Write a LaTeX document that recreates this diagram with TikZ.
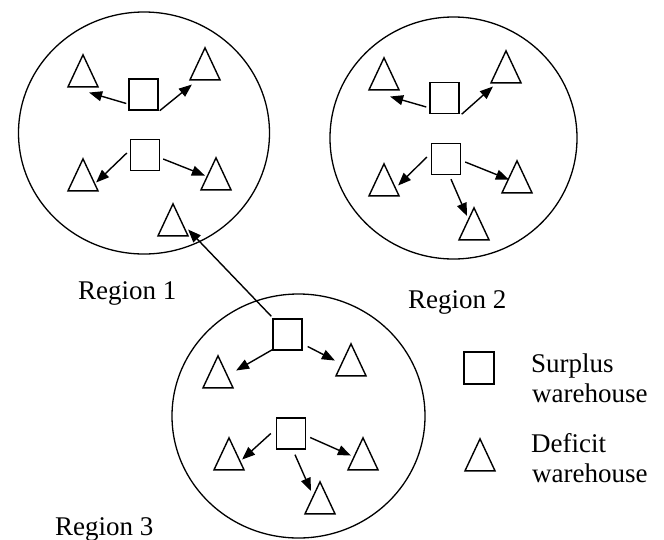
\documentclass[tikz,border=0pt]{standalone}
\usepackage{fontspec}
\setmainfont{Liberation Serif}
\usetikzlibrary{shapes.geometric,arrows.meta,calc}

\tikzset{
  region/.style={draw, ellipse, line width=1.3pt, inner sep=0pt},
  surplus/.style={draw, rectangle, line width=1.4pt, minimum width=29pt, minimum height=31pt, inner sep=0pt},
  deficit/.style={draw, isosceles triangle, isosceles triangle stretches, shape border rotate=90,
    line width=1.4pt, minimum width=30pt, minimum height=32pt, inner sep=0pt, anchor=apex},
  flow/.style={line width=1.4pt, -{Triangle[length=13pt,width=10pt]}},
  lbl/.style={anchor=base west, inner sep=0pt, font=\fontsize{27}{30}\selectfont}
}

\begin{document}
\begin{tikzpicture}[x=1pt,y=-1pt]
\useasboundingbox (0,0) rectangle (664,539);

% the three regions
\node[region, minimum width=251pt, minimum height=242pt] (r1) at (144,133) {};
\node[region, minimum width=247pt, minimum height=242pt] (r2) at (453.5,138) {};
\node[region, minimum width=253pt, minimum height=244pt] (r3) at (298.5,416) {};

% region 1
\node[surplus] (a1) at (143.5,94.5) {};
\node[surplus] (a2) at (145,155) {};
\node[deficit] (p1) at (83,53) {};
\node[deficit] (p2) at (205,46) {};
\node[deficit] (p3) at (83,157) {};
\node[deficit] (p4) at (216,156) {};
\node[deficit] (p5) at (173,202) {};

% region 2
\node[surplus] (b1) at (444.5,98) {};
\node[surplus] (b2) at (446,159) {};
\node[deficit] (q1) at (384,56) {};
\node[deficit] (q2) at (506,49) {};
\node[deficit] (q3) at (384,162) {};
\node[deficit] (q4) at (517,159) {};
\node[deficit] (q5) at (474,206) {};

% region 3
\node[surplus] (c1) at (287.5,334.5) {};
\node[surplus] (c2) at (291,433.5) {};
\node[deficit] (u1) at (218,354) {};
\node[deficit] (u2) at (351,342) {};
\node[deficit] (u3) at (229,436) {};
\node[deficit] (u4) at (363,436) {};
\node[deficit] (u5) at (320,480) {};

% flows inside region 1
\draw[flow] ($(a1.west)+(-2,9)$) -- ($(p1.right corner)+(-10,5)$);
\draw[flow] ($(a1.south east)+(1,0)$) -- ($(p2.left corner)+(3,4)$);
\draw[flow] ($(a2.west)+(-3,-2)$) -- ($(p3.right corner)+(-3,-9)$);
\draw[flow] ($(a2.east)+(3,4)$) -- ($(p4.left corner)+(5,-15)$);

% flows inside region 2
\draw[flow] ($(b1.west)+(-3,9)$) -- ($(q1.right corner)+(-10,6)$);
\draw[flow] ($(b1.south east)+(2,0)$) -- ($(q2.left corner)+(3,3)$);
\draw[flow] ($(b2.west)+(-4,-2)$) -- ($(q3.right corner)+(-2,-11)$);
\draw[flow] ($(b2.east)+(4,3)$) -- ($(q4.left corner)+(8,-14)$);
\draw[flow] ($(b2.south)+(5,4)$) -- ($(q5.apex)+(-7,10)$);

% flows inside region 3
\draw[flow] ($(c1.south west)+(0,-1)$) -- ($(u1.right corner)+(2,-18)$);
\draw[flow] ($(c1.east)+(5,12)$) -- ($(u2.left corner)+(0,-16)$);
\draw[flow] ($(c2.west)+(-5,0)$) -- ($(u3.right corner)+(-3,-11)$);
\draw[flow] ($(c2.east)+(4,4)$) -- ($(u4.left corner)+(4,-15)$);
\draw[flow] ($(c2.south)+(4,5)$) -- ($(u5.apex)+(-9,11)$);

% transfer from region 3 to region 1
\draw[flow] ($(c1.north west)+(-1,-2)$) -- ($(p5.right corner)+(-1,-7)$);

% region names
\node[lbl] (n1) at (78,299) {Region 1};
\node[lbl] (n2) at (408,308) {Region 2};
\node[lbl] (n3) at (55,535) {Region 3};

% legend
\node[surplus, minimum width=30pt, minimum height=32pt] (ks) at (479,368) {};
\node[deficit] (kd) at (480,437) {};
\node[lbl] (ks1) at (531,372) {Surplus};
\node[lbl] (ks2) at (532,402) {warehouse};
\node[lbl] (kd1) at (531,452) {Deficit};
\node[lbl] (kd2) at (532,482) {warehouse};
\end{tikzpicture}
\end{document}
